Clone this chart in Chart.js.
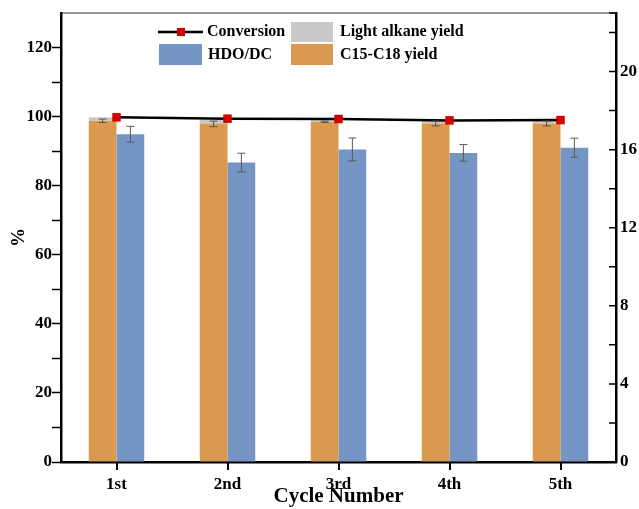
<!DOCTYPE html>
<html>
<head>
<meta charset="utf-8">
<script src="https://cdn.jsdelivr.net/npm/chart.js@4"></script>
<style>
  html, body { margin: 0; padding: 0; background: #fff; }
  #wrap { width: 639px; height: 509px; }
</style>
</head>
<body>
<div id="wrap"><canvas id="chart" width="639" height="509"></canvas></div>
<script>
// values
const cycles = ["1st", "2nd", "3rd", "4th", "5th"];
const conversion = [99.8, 99.4, 99.3, 98.9, 99.0];
const c15c18Yield = [98.8, 97.9, 98.5, 98.0, 98.0];
const c15c18Err = [0.5, 0.8, 0.2, 0.7, 0.7];
const lightAlkaneYield = [1.0, 1.2, 0.7, 0.8, 0.8];
const hdoDc = [94.9, 86.7, 90.5, 89.5, 91.0];
const hdoDcErr = [2.3, 2.7, 3.3, 2.4, 2.75];

const FONT = "'Liberation Serif', 'Times New Roman', serif";
const ORANGE = "#D99A4F";
const BLUE = "#7595C5";
const GRAY = "#C9C9C9";
const RED = "#D40000";

// error bars on top of the bars
const errorBars = {
  id: "errorBars",
  afterDatasetsDraw(chart) {
    const ctx = chart.ctx;
    const y = chart.scales.y;
    const sets = [
      { index: 1, values: c15c18Yield, errs: c15c18Err, color: "#555" },
      { index: 3, values: hdoDc, errs: hdoDcErr, color: "#5a5a5a" },
    ];
    ctx.save();
    ctx.lineWidth = 1;
    sets.forEach((s) => {
      const meta = chart.getDatasetMeta(s.index);
      meta.data.forEach((bar, i) => {
        const x = bar.x;
        const top = y.getPixelForValue(s.values[i] + s.errs[i]);
        const bot = y.getPixelForValue(s.values[i] - s.errs[i]);
        ctx.strokeStyle = s.color;
        ctx.beginPath();
        ctx.moveTo(x, top); ctx.lineTo(x, bot);
        ctx.moveTo(x - 4, top); ctx.lineTo(x + 4, top);
        ctx.moveTo(x - 4, bot); ctx.lineTo(x + 4, bot);
        ctx.stroke();
      });
    });
    ctx.restore();
  },
};

// x ticks at category centres
function drawXTicks(chart) {
  const ctx = chart.ctx;
  const x = chart.scales.x;
  const bottom = chart.chartArea.bottom;
  ctx.save();
  ctx.fillStyle = "#000";
  cycles.forEach((c, i) => {
    const px = Math.round(x.getPixelForTick(i));
    ctx.fillRect(px - 1, bottom, 2, 8);
  });
  ctx.restore();
}

// top frame line, inward ticks on right axis, legend box
const frame = {
  id: "frame",
  afterDraw(chart) {
    const ctx = chart.ctx;
    const a = chart.chartArea;
    const y2 = chart.scales.y2;
    ctx.save();
    ctx.strokeStyle = "#333";
    ctx.lineWidth = 1.2;
    ctx.beginPath();
    ctx.moveTo(a.left, a.top); ctx.lineTo(a.right, a.top);
    ctx.stroke();

    ctx.strokeStyle = "#000";
    ctx.lineWidth = 1.5;
    ctx.beginPath();
    y2.ticks.forEach((t) => {
      const py = y2.getPixelForValue(t.value);
      ctx.moveTo(a.right, py); ctx.lineTo(a.right - 7, py);
    });
    ctx.stroke();

    // legend
    ctx.font = "bold 16px " + FONT;
    ctx.textBaseline = "middle";
    ctx.fillStyle = "#000";
    ctx.strokeStyle = "#000";
    ctx.lineWidth = 2.5;
    ctx.beginPath();
    ctx.moveTo(158, 32); ctx.lineTo(203, 32);
    ctx.stroke();
    ctx.fillStyle = RED;
    ctx.fillRect(177, 28, 8, 8);
    ctx.fillStyle = "#000";
    ctx.fillText("Conversion", 207, 32);

    ctx.fillStyle = GRAY;
    ctx.fillRect(291, 22, 42, 20);
    ctx.fillStyle = "#000";
    ctx.fillText("Light alkane yield", 340, 32);

    ctx.fillStyle = BLUE;
    ctx.fillRect(159, 44, 43, 21);
    ctx.fillStyle = "#000";
    ctx.fillText("HDO/DC", 208, 55);

    ctx.fillStyle = ORANGE;
    ctx.fillRect(291, 44, 42, 21);
    ctx.fillStyle = "#000";
    ctx.fillText("C15-C18 yield", 340, 55);
    ctx.restore();

    drawXTicks(chart);
  },
};

new Chart(document.getElementById("chart"), {
  type: "bar",
  data: {
    labels: cycles,
    datasets: [
      {
        type: "line",
        label: "Conversion",
        data: conversion,
        borderColor: "#000",
        borderWidth: 2.5,
        pointStyle: "rect",
        pointRadius: 6,
        pointBackgroundColor: RED,
        pointBorderColor: RED,
        pointBorderWidth: 0,
        yAxisID: "y",
      },
      {
        label: "C15-C18 yield",
        data: c15c18Yield,
        backgroundColor: ORANGE,
        stack: "a",
        yAxisID: "y",
      },
      {
        label: "Light alkane yield",
        data: lightAlkaneYield,
        backgroundColor: GRAY,
        stack: "a",
        yAxisID: "y",
      },
      {
        label: "HDO/DC",
        data: hdoDc,
        backgroundColor: BLUE,
        stack: "b",
        yAxisID: "y",
      },
    ],
  },
  options: {
    responsive: false,
    animation: false,
    categoryPercentage: 0.5,
    barPercentage: 1.0,
    layout: { padding: { top: 13, left: 0, right: 0, bottom: 0 } },
    plugins: {
      legend: { display: false },
      tooltip: { enabled: false },
    },
    scales: {
      x: {
        stacked: true,
        grid: { display: false, tickLength: 10 },
        border: { display: true, color: "#000", width: 2.5 },
        ticks: { color: "#000", padding: 2, font: { family: FONT, size: 17, weight: "bold" } },
        title: {
          display: true,
          text: "Cycle Number",
          color: "#000",
          padding: { top: 0, bottom: 0 },
          font: { family: FONT, size: 21, weight: "bold" },
        },
        afterFit(scale) { scale.height = 47; },
      },
      y: {
        position: "left",
        stacked: true,
        min: 0,
        max: 130,
        grid: { drawOnChartArea: false, tickLength: 9, tickColor: "#000", tickWidth: 1.5 },
        border: { color: "#000", width: 2.5 },
        afterBuildTicks(scale) {
          scale.ticks = scale.ticks.filter((t) => t.value < 130);
        },
        ticks: {
          stepSize: 10,
          color: "#000",
          padding: 0,
          font: { family: FONT, size: 17, weight: "bold" },
          callback: (v) => (v % 20 === 0 ? v : ""),
        },
        title: {
          display: true,
          text: "%",
          color: "#000",
          padding: { top: 8, bottom: 0 },
          font: { family: FONT, size: 19, weight: "bold" },
        },
        afterFit(scale) { scale.width = 61; },
      },
      y2: {
        position: "right",
        min: 0,
        max: 23,
        grid: { display: false, tickLength: 4 },
        border: { display: true, color: "#000", width: 2.5 },
        ticks: {
          stepSize: 2,
          color: "#000",
          padding: 0,
          font: { family: FONT, size: 17, weight: "bold" },
          callback: (v) => (v % 4 === 0 ? v : ""),
        },
        afterFit(scale) { scale.width = 23; },
      },
    },
  },
  plugins: [errorBars, frame],
});
</script>
</body>
</html>
